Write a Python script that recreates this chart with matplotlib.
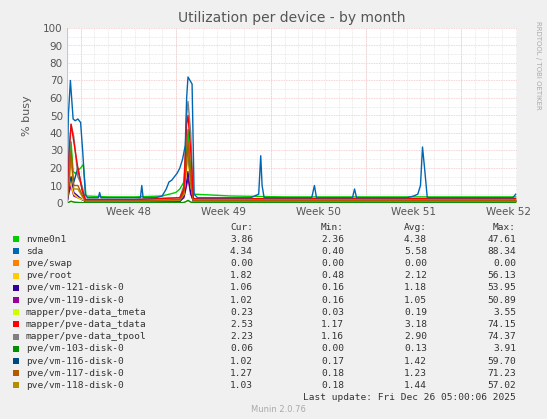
import matplotlib
matplotlib.use("Agg")
import matplotlib.pyplot as plt

# x in days from left edge of the graph
names = ["nvme0n1", "sda", "pve/swap", "pve/root", "pve/vm-121-disk-0", "pve/vm-119-disk-0",
         "mapper/pve-data_tmeta", "mapper/pve-data_tdata", "mapper/pve-data_tpool",
         "pve/vm-103-disk-0", "pve/vm-116-disk-0", "pve/vm-117-disk-0", "pve/vm-118-disk-0"]
colors = ["#00CC00", "#0066B3", "#FF8000", "#FFCC00", "#330099", "#990099", "#CCFF00",
          "#FF0000", "#808080", "#008F00", "#00487D", "#B35A00", "#B38F00"]
cur = ["3.86", "4.34", "0.00", "1.82", "1.06", "1.02", "0.23", "2.53", "2.23", "0.06", "1.02", "1.27", "1.03"]
mins = ["2.36", "0.40", "0.00", "0.48", "0.16", "0.16", "0.03", "1.17", "1.16", "0.00", "0.17", "0.18", "0.18"]
avgs = ["4.38", "5.58", "0.00", "2.12", "1.18", "1.05", "0.19", "3.18", "2.90", "0.13", "1.42", "1.23", "1.44"]
maxs = ["47.61", "88.34", "0.00", "56.13", "53.95", "50.89", "3.55", "74.15", "74.37", "3.91", "59.70", "71.23", "57.02"]

sda_x = [0, 0.1, 0.25, 0.45, 0.6, 0.8, 1.0, 1.15, 1.35, 1.5, 2.0, 2.3, 2.4, 2.5, 3.5, 4.0, 5.0, 5.4, 5.5,
         5.6, 6.5, 7.0, 7.3, 7.5, 7.7, 7.9, 8.1, 8.3, 8.5, 8.7, 8.8, 8.9, 9.05, 9.2, 9.35, 9.6, 10.5,
         12, 13.5, 14.1, 14.25, 14.35, 14.5, 15.5, 16.5, 17, 18.0, 18.2, 18.35, 19.5, 21.0, 21.15,
         21.3, 23, 25.0, 25.5, 25.8, 26.0, 26.15, 26.3, 26.5, 26.7, 28, 30, 31.5, 32.8, 33.0]
sda_y = [0, 50, 70, 48, 47, 48, 46, 30, 5, 3, 3, 3, 6, 3, 3, 3, 3, 3, 10,
         3, 3, 4, 8, 12, 13, 15, 17, 20, 25, 33, 60, 72, 70, 68, 5, 3, 3,
         3, 3, 5, 27, 10, 3, 3, 3, 3, 3, 10, 3, 3, 3, 8,
         3, 3, 3, 4, 5, 10, 32, 20, 3, 3, 3, 3, 3, 3, 5]

nvme_x = [0, 0.15, 0.3, 0.45, 0.6, 1.0, 1.2, 1.4, 3, 5, 7, 8.0, 8.3, 8.6, 8.8, 8.9, 9.1, 9.3, 9.5, 12, 16, 20, 24, 28, 33]
nvme_y = [0, 20, 35, 18, 17, 20, 22, 4, 3.5, 3.5, 4, 6, 8, 12, 30, 42, 18, 5, 5, 4, 3.5, 3.5, 3.5, 3.5, 3.5]

small_x = [0, 0.15, 0.3, 0.5, 0.8, 1.1, 1.35, 5, 8.3, 8.6, 8.8, 8.9, 9.1, 9.3, 33]
tdata_y = [0, 30, 45, 35, 20, 8, 2, 2, 3, 8, 45, 50, 30, 2.5, 2.5]
tpool_y = [0, 25, 45, 38, 15, 10, 2, 2, 3, 10, 50, 58, 40, 2.2, 2.2]
root_y = [0, 20, 10, 5, 3, 2, 1.5, 1.5, 2, 5, 20, 25, 10, 1.8, 1.8]
vm116_y = [0, 10, 15, 12, 20, 8, 1, 1, 1, 8, 28, 30, 12, 1, 1]
vm117_y = [0, 15, 30, 10, 10, 5, 1.2, 1.2, 2, 6, 22, 35, 15, 1.3, 1.3]
vm118_y = [0, 12, 25, 8, 8, 4, 1, 1, 1.5, 5, 25, 32, 12, 1, 1]
vm121_y = [0, 8, 14, 6, 4, 2, 1, 1, 1, 4, 12, 18, 6, 1, 1]
vm119_y = [0, 6, 10, 4, 3, 2, 1, 1, 1, 3, 10, 14, 5, 1, 1]
flat_y = [0, 0.5, 1, 0.5, 0.3, 0.2, 0.2, 0.2, 0.2, 0.3, 1, 1.5, 0.5, 0.2, 0.2]

fig = plt.figure(figsize=(5.47, 4.19), dpi=100, facecolor="#F0F0F0")
ax = fig.add_axes([67/547, 216/419, 450/547, 175/419])
ax.set_facecolor("white")

series = [
    (nvme_x, nvme_y, 0), (small_x, flat_y, 6), (small_x, flat_y, 9), (small_x, vm119_y, 5),
    (small_x, vm121_y, 4), (small_x, root_y, 3), (small_x, vm116_y, 10), (small_x, vm118_y, 12),
    (small_x, vm117_y, 11), (small_x, tpool_y, 8), (small_x, tdata_y, 7), (sda_x, sda_y, 1),
]
for xs, ys, i in series:
    ax.plot(xs, ys, color=colors[i], lw=1)

ax.set_xlim(0, 33.1)
ax.set_ylim(0, 100)
for d in range(0, 34):
    ax.axvline(d, color="#E0E0E0", lw=0.5, ls=(0, (1, 1)), zorder=0)
for d in [1, 8, 15, 22, 29]:
    ax.axvline(d, color="#F4C4C4", lw=0.6, ls=(0, (1, 1)), zorder=0)
for v in range(5, 101, 10):
    ax.axhline(v, color="#E0E0E0", lw=0.5, ls=(0, (1, 1)), zorder=0)
for v in range(10, 101, 10):
    ax.axhline(v, color="#F4C4C4", lw=0.6, ls=(0, (1, 1)), zorder=0)
for s in ax.spines.values():
    s.set_visible(False)
ax.axhline(0, color="#C0C0FF", lw=0.8)
ax.axvline(0, color="#C0C0FF", lw=0.8)
ax.set_yticks(range(0, 101, 10))
ax.set_xticks([4.5, 11.5, 18.5, 25.5, 32.5])
ax.set_xticklabels(["Week 48", "Week 49", "Week 50", "Week 51", "Week 52"])
ax.tick_params(length=0, labelsize=7.5, colors="#555555", pad=3)
ax.set_ylabel("% busy", fontsize=8, color="#555555", labelpad=8)

fig.text(0.5 * (67 + 517) / 547, 1 - 18/419, "Utilization per device - by month", ha="center",
         va="center", fontsize=10, color="#555555")
fig.text(538/547, 1 - 65/419, "RRDTOOL / TOBI OETIKER", rotation=270, ha="center", va="center",
         fontsize=5, color="#AAAAAA")

mono = dict(family="DejaVu Sans Mono", fontsize=6.8, color="#333333", va="center")
def fy(y):
    return 1 - y / 419
fig.text(253/547, fy(227), "Cur:", ha="right", **mono)
fig.text(344/547, fy(227), "Min:", ha="right", **mono)
fig.text(427/547, fy(227), "Avg:", ha="right", **mono)
fig.text(516/547, fy(227), "Max:", ha="right", **mono)
for i, n in enumerate(names):
    y = 239 + i * 12.2
    fig.patches.append(plt.Rectangle((13/547, fy(y) - 3/419), 6/547, 6/419, transform=fig.transFigure,
                                     facecolor=colors[i], edgecolor="none"))
    fig.text(26/547, fy(y), n, ha="left", **mono)
    fig.text(253/547, fy(y), cur[i], ha="right", **mono)
    fig.text(344/547, fy(y), mins[i], ha="right", **mono)
    fig.text(427/547, fy(y), avgs[i], ha="right", **mono)
    fig.text(516/547, fy(y), maxs[i], ha="right", **mono)
fig.text(516/547, fy(397), "Last update: Fri Dec 26 05:00:06 2025", ha="right", **mono)
fig.text(278/547, fy(409), "Munin 2.0.76", ha="center", va="center", fontsize=6, color="#AAAAAA")

fig.savefig("out.png", dpi=100, facecolor=fig.get_facecolor())
